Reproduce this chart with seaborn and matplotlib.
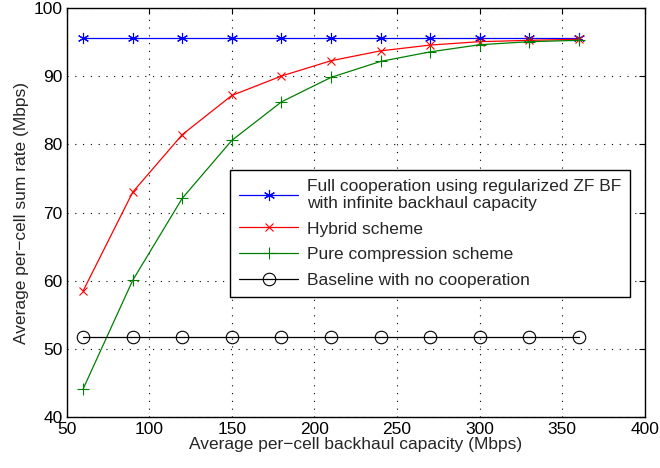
import numpy as np
import pandas as pd
import matplotlib
matplotlib.use("Agg")
import matplotlib.pyplot as plt
import seaborn as sns

capacity = [60, 90, 120, 150, 180, 210, 240, 270, 300, 330, 360]
full_coop = [95.6] * 11
hybrid = [58.5, 73.0, 81.45, 87.2, 90.05, 92.3, 93.75, 94.6, 95.1, 95.3, 95.45]
pure_comp = [44.1, 60.05, 72.1, 80.6, 86.25, 89.85, 92.2, 93.6, 94.65, 95.1, 95.3]
baseline = [51.65] * 11

labels = ["Full cooperation using regularized ZF BF\nwith infinite backhaul capacity",
          "Hybrid scheme", "Pure compression scheme", "Baseline with no cooperation"]
series = [full_coop, hybrid, pure_comp, baseline]
colors = ["#0000ff", "#ff0000", "#008000", "#000000"]
markers = [(6, 2, 0), "x", "+", "o"]
msizes = [8, 6, 9, 9]

sns.set_theme(style="white")
plt.rcParams['font.family'] = ['Liberation Sans', 'DejaVu Sans']

fig = plt.figure(figsize=(6.6, 4.68), dpi=100)
ax = fig.add_axes([0.101, 0.1096, 0.876, 0.8726])

for lab, vals, c, m, ms in zip(labels, series, colors, markers, msizes):
    df = pd.DataFrame({"x": capacity, "y": vals})
    kw = dict(markersize=ms, markeredgewidth=0.8, markeredgecolor=c)
    if m == "o":
        kw.update(markerfacecolor="none")
    sns.lineplot(data=df, x="x", y="y", ax=ax, color=c, marker=m, linewidth=0.9,
                 label=lab, **kw)

ax.set_xlim(50, 400)
ax.set_ylim(40, 100)
ax.set_xticks(range(50, 401, 50))
ax.set_yticks(range(40, 101, 10))
ax.grid(True, color="black", linestyle=(0, (1, 6)), linewidth=0.8)
ax.tick_params(direction="in", top=True, right=True, length=4, width=0.8,
               labelsize=12.5, colors="black")
ax.tick_params(axis="x", pad=4)
ax.tick_params(axis="y", pad=3)
for s in ax.spines.values():
    s.set_color("black")
    s.set_linewidth(1.0)
ax.set_xlabel("Average per\u2212cell backhaul capacity (Mbps)", fontsize=12.5, labelpad=0)
ax.set_ylabel("Average per\u2212cell sum rate (Mbps)", fontsize=12.5, labelpad=3)

leg = ax.legend(loc="lower right", bbox_to_anchor=(0.974, 0.293), fontsize=12.5,
                frameon=True, fancybox=False, framealpha=1, edgecolor="black",
                handlelength=3.4, handletextpad=0.5, borderpad=0.5,
                labelspacing=0.62, borderaxespad=0)
leg.get_frame().set_linewidth(1.0)
for t in leg.get_texts():
    t.set_linespacing(1.15)

fig.savefig("out.png", dpi=100)
